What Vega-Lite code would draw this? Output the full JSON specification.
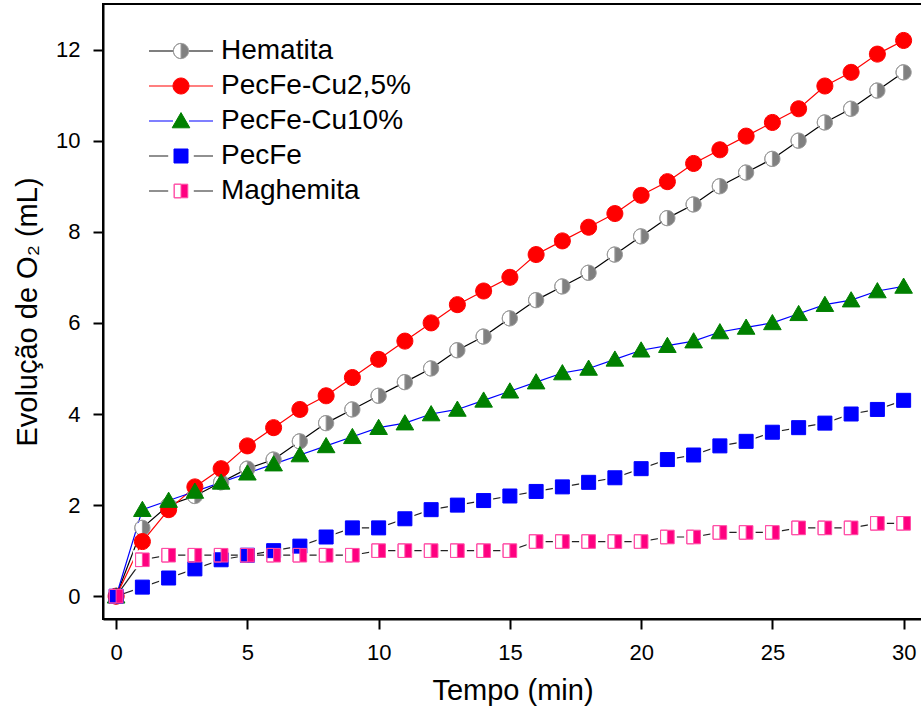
{
  "$schema": "https://vega.github.io/schema/vega-lite/v6.json",
  "width": 819,
  "height": 615,
  "autosize": {"type": "none"},
  "padding": {"left": 103, "top": 4, "right": 0, "bottom": 94},
  "config": {
    "font": "Liberation Sans",
    "view": {"stroke": "#000000", "strokeWidth": 2},
    "axis": {
      "grid": false,
      "domainColor": "#000000",
      "domainWidth": 2,
      "tickColor": "#000000",
      "tickWidth": 2,
      "tickSize": 10,
      "labelFont": "Liberation Sans",
      "labelFontSize": 22,
      "labelColor": "#000000",
      "labelPadding": 13,
      "titleFont": "Liberation Sans",
      "titleFontSize": 29,
      "titleFontWeight": "normal",
      "titleColor": "#000000",
      "titlePadding": 13
    },
    "legend": {
      "orient": "none",
      "legendX": 64,
      "legendY": 33,
      "padding": 0,
      "symbolSize": 256,
      "labelFont": "Liberation Sans",
      "labelFontSize": 28,
      "labelColor": "#000000",
      "labelLimit": 400,
      "labelOffset": 26,
      "rowPadding": 7
    }
  },
  "data": {
    "values": [
      {"serie": "Hematita", "t": 0, "o2": 0}, {"serie": "Hematita", "t": 1, "o2": 1.5}, {"serie": "Hematita", "t": 2, "o2": 2.0}, {"serie": "Hematita", "t": 3, "o2": 2.2}, {"serie": "Hematita", "t": 4, "o2": 2.5}, {"serie": "Hematita", "t": 5, "o2": 2.8}, {"serie": "Hematita", "t": 6, "o2": 3.0}, {"serie": "Hematita", "t": 7, "o2": 3.4}, {"serie": "Hematita", "t": 8, "o2": 3.8}, {"serie": "Hematita", "t": 9, "o2": 4.1}, {"serie": "Hematita", "t": 10, "o2": 4.4}, {"serie": "Hematita", "t": 11, "o2": 4.7}, {"serie": "Hematita", "t": 12, "o2": 5.0}, {"serie": "Hematita", "t": 13, "o2": 5.4}, {"serie": "Hematita", "t": 14, "o2": 5.7}, {"serie": "Hematita", "t": 15, "o2": 6.1}, {"serie": "Hematita", "t": 16, "o2": 6.5}, {"serie": "Hematita", "t": 17, "o2": 6.8}, {"serie": "Hematita", "t": 18, "o2": 7.1}, {"serie": "Hematita", "t": 19, "o2": 7.5}, {"serie": "Hematita", "t": 20, "o2": 7.9}, {"serie": "Hematita", "t": 21, "o2": 8.3}, {"serie": "Hematita", "t": 22, "o2": 8.6}, {"serie": "Hematita", "t": 23, "o2": 9.0}, {"serie": "Hematita", "t": 24, "o2": 9.3}, {"serie": "Hematita", "t": 25, "o2": 9.6}, {"serie": "Hematita", "t": 26, "o2": 10.0}, {"serie": "Hematita", "t": 27, "o2": 10.4}, {"serie": "Hematita", "t": 28, "o2": 10.7}, {"serie": "Hematita", "t": 29, "o2": 11.1}, {"serie": "Hematita", "t": 30, "o2": 11.5},
      {"serie": "PecFe-Cu2,5%", "t": 0, "o2": 0}, {"serie": "PecFe-Cu2,5%", "t": 1, "o2": 1.2}, {"serie": "PecFe-Cu2,5%", "t": 2, "o2": 1.9}, {"serie": "PecFe-Cu2,5%", "t": 3, "o2": 2.4}, {"serie": "PecFe-Cu2,5%", "t": 4, "o2": 2.8}, {"serie": "PecFe-Cu2,5%", "t": 5, "o2": 3.3}, {"serie": "PecFe-Cu2,5%", "t": 6, "o2": 3.7}, {"serie": "PecFe-Cu2,5%", "t": 7, "o2": 4.1}, {"serie": "PecFe-Cu2,5%", "t": 8, "o2": 4.4}, {"serie": "PecFe-Cu2,5%", "t": 9, "o2": 4.8}, {"serie": "PecFe-Cu2,5%", "t": 10, "o2": 5.2}, {"serie": "PecFe-Cu2,5%", "t": 11, "o2": 5.6}, {"serie": "PecFe-Cu2,5%", "t": 12, "o2": 6.0}, {"serie": "PecFe-Cu2,5%", "t": 13, "o2": 6.4}, {"serie": "PecFe-Cu2,5%", "t": 14, "o2": 6.7}, {"serie": "PecFe-Cu2,5%", "t": 15, "o2": 7.0}, {"serie": "PecFe-Cu2,5%", "t": 16, "o2": 7.5}, {"serie": "PecFe-Cu2,5%", "t": 17, "o2": 7.8}, {"serie": "PecFe-Cu2,5%", "t": 18, "o2": 8.1}, {"serie": "PecFe-Cu2,5%", "t": 19, "o2": 8.4}, {"serie": "PecFe-Cu2,5%", "t": 20, "o2": 8.8}, {"serie": "PecFe-Cu2,5%", "t": 21, "o2": 9.1}, {"serie": "PecFe-Cu2,5%", "t": 22, "o2": 9.5}, {"serie": "PecFe-Cu2,5%", "t": 23, "o2": 9.8}, {"serie": "PecFe-Cu2,5%", "t": 24, "o2": 10.1}, {"serie": "PecFe-Cu2,5%", "t": 25, "o2": 10.4}, {"serie": "PecFe-Cu2,5%", "t": 26, "o2": 10.7}, {"serie": "PecFe-Cu2,5%", "t": 27, "o2": 11.2}, {"serie": "PecFe-Cu2,5%", "t": 28, "o2": 11.5}, {"serie": "PecFe-Cu2,5%", "t": 29, "o2": 11.9}, {"serie": "PecFe-Cu2,5%", "t": 30, "o2": 12.2},
      {"serie": "PecFe-Cu10%", "t": 0, "o2": 0}, {"serie": "PecFe-Cu10%", "t": 1, "o2": 1.9}, {"serie": "PecFe-Cu10%", "t": 2, "o2": 2.1}, {"serie": "PecFe-Cu10%", "t": 3, "o2": 2.3}, {"serie": "PecFe-Cu10%", "t": 4, "o2": 2.5}, {"serie": "PecFe-Cu10%", "t": 5, "o2": 2.7}, {"serie": "PecFe-Cu10%", "t": 6, "o2": 2.9}, {"serie": "PecFe-Cu10%", "t": 7, "o2": 3.1}, {"serie": "PecFe-Cu10%", "t": 8, "o2": 3.3}, {"serie": "PecFe-Cu10%", "t": 9, "o2": 3.5}, {"serie": "PecFe-Cu10%", "t": 10, "o2": 3.7}, {"serie": "PecFe-Cu10%", "t": 11, "o2": 3.8}, {"serie": "PecFe-Cu10%", "t": 12, "o2": 4.0}, {"serie": "PecFe-Cu10%", "t": 13, "o2": 4.1}, {"serie": "PecFe-Cu10%", "t": 14, "o2": 4.3}, {"serie": "PecFe-Cu10%", "t": 15, "o2": 4.5}, {"serie": "PecFe-Cu10%", "t": 16, "o2": 4.7}, {"serie": "PecFe-Cu10%", "t": 17, "o2": 4.9}, {"serie": "PecFe-Cu10%", "t": 18, "o2": 5.0}, {"serie": "PecFe-Cu10%", "t": 19, "o2": 5.2}, {"serie": "PecFe-Cu10%", "t": 20, "o2": 5.4}, {"serie": "PecFe-Cu10%", "t": 21, "o2": 5.5}, {"serie": "PecFe-Cu10%", "t": 22, "o2": 5.6}, {"serie": "PecFe-Cu10%", "t": 23, "o2": 5.8}, {"serie": "PecFe-Cu10%", "t": 24, "o2": 5.9}, {"serie": "PecFe-Cu10%", "t": 25, "o2": 6.0}, {"serie": "PecFe-Cu10%", "t": 26, "o2": 6.2}, {"serie": "PecFe-Cu10%", "t": 27, "o2": 6.4}, {"serie": "PecFe-Cu10%", "t": 28, "o2": 6.5}, {"serie": "PecFe-Cu10%", "t": 29, "o2": 6.7}, {"serie": "PecFe-Cu10%", "t": 30, "o2": 6.8},
      {"serie": "PecFe", "t": 0, "o2": 0}, {"serie": "PecFe", "t": 1, "o2": 0.2}, {"serie": "PecFe", "t": 2, "o2": 0.4}, {"serie": "PecFe", "t": 3, "o2": 0.6}, {"serie": "PecFe", "t": 4, "o2": 0.8}, {"serie": "PecFe", "t": 5, "o2": 0.9}, {"serie": "PecFe", "t": 6, "o2": 1.0}, {"serie": "PecFe", "t": 7, "o2": 1.1}, {"serie": "PecFe", "t": 8, "o2": 1.3}, {"serie": "PecFe", "t": 9, "o2": 1.5}, {"serie": "PecFe", "t": 10, "o2": 1.5}, {"serie": "PecFe", "t": 11, "o2": 1.7}, {"serie": "PecFe", "t": 12, "o2": 1.9}, {"serie": "PecFe", "t": 13, "o2": 2.0}, {"serie": "PecFe", "t": 14, "o2": 2.1}, {"serie": "PecFe", "t": 15, "o2": 2.2}, {"serie": "PecFe", "t": 16, "o2": 2.3}, {"serie": "PecFe", "t": 17, "o2": 2.4}, {"serie": "PecFe", "t": 18, "o2": 2.5}, {"serie": "PecFe", "t": 19, "o2": 2.6}, {"serie": "PecFe", "t": 20, "o2": 2.8}, {"serie": "PecFe", "t": 21, "o2": 3.0}, {"serie": "PecFe", "t": 22, "o2": 3.1}, {"serie": "PecFe", "t": 23, "o2": 3.3}, {"serie": "PecFe", "t": 24, "o2": 3.4}, {"serie": "PecFe", "t": 25, "o2": 3.6}, {"serie": "PecFe", "t": 26, "o2": 3.7}, {"serie": "PecFe", "t": 27, "o2": 3.8}, {"serie": "PecFe", "t": 28, "o2": 4.0}, {"serie": "PecFe", "t": 29, "o2": 4.1}, {"serie": "PecFe", "t": 30, "o2": 4.3},
      {"serie": "Maghemita", "t": 0, "o2": 0}, {"serie": "Maghemita", "t": 1, "o2": 0.8}, {"serie": "Maghemita", "t": 2, "o2": 0.9}, {"serie": "Maghemita", "t": 3, "o2": 0.9}, {"serie": "Maghemita", "t": 4, "o2": 0.9}, {"serie": "Maghemita", "t": 5, "o2": 0.9}, {"serie": "Maghemita", "t": 6, "o2": 0.9}, {"serie": "Maghemita", "t": 7, "o2": 0.9}, {"serie": "Maghemita", "t": 8, "o2": 0.9}, {"serie": "Maghemita", "t": 9, "o2": 0.9}, {"serie": "Maghemita", "t": 10, "o2": 1.0}, {"serie": "Maghemita", "t": 11, "o2": 1.0}, {"serie": "Maghemita", "t": 12, "o2": 1.0}, {"serie": "Maghemita", "t": 13, "o2": 1.0}, {"serie": "Maghemita", "t": 14, "o2": 1.0}, {"serie": "Maghemita", "t": 15, "o2": 1.0}, {"serie": "Maghemita", "t": 16, "o2": 1.2}, {"serie": "Maghemita", "t": 17, "o2": 1.2}, {"serie": "Maghemita", "t": 18, "o2": 1.2}, {"serie": "Maghemita", "t": 19, "o2": 1.2}, {"serie": "Maghemita", "t": 20, "o2": 1.2}, {"serie": "Maghemita", "t": 21, "o2": 1.3}, {"serie": "Maghemita", "t": 22, "o2": 1.3}, {"serie": "Maghemita", "t": 23, "o2": 1.4}, {"serie": "Maghemita", "t": 24, "o2": 1.4}, {"serie": "Maghemita", "t": 25, "o2": 1.4}, {"serie": "Maghemita", "t": 26, "o2": 1.5}, {"serie": "Maghemita", "t": 27, "o2": 1.5}, {"serie": "Maghemita", "t": 28, "o2": 1.5}, {"serie": "Maghemita", "t": 29, "o2": 1.6}, {"serie": "Maghemita", "t": 30, "o2": 1.6}
    ]
  },
  "encoding": {
    "x": {
      "field": "t", "type": "quantitative",
      "scale": {"domain": [-0.5, 30.7], "nice": false, "zero": false},
      "axis": {"values": [0, 5, 10, 15, 20, 25, 30], "title": "Tempo (min)"}
    },
    "y": {
      "field": "o2", "type": "quantitative",
      "scale": {"domain": [-0.5, 13], "nice": false, "zero": false},
      "axis": {"values": [0, 2, 4, 6, 8, 10, 12], "title": "Evolução de O₂ (mL)"}
    }
  },
  "layer": [
    {
      "mark": {"type": "line", "strokeWidth": 1.2},
      "encoding": {
        "color": {
          "field": "serie", "type": "nominal",
          "scale": {
            "domain": ["Hematita", "PecFe-Cu2,5%", "PecFe-Cu10%", "PecFe", "Maghemita"],
            "range": ["#000000", "#ff0000", "#0000ff", "#222222", "#222222"]
          },
          "legend": {
            "title": null,
            "symbolStrokeWidth": 1.2,
            "labelOpacity": 0,
            "encode": {
              "symbols": {
                "update": {
                  "shape": {"signal": "datum.value === 'PecFe' || datum.value === 'Maghemita' ? 'M-4 0H-1.6M1.6 0H4' : 'M-4 0H-1M1 0H4'"}
                }
              }
            }
          }
        }
      }
    },
    {
      "transform": [{"filter": "datum.serie === 'Hematita'"}],
      "mark": {"type": "point", "shape": "circle", "filled": true, "fill": "#ffffff", "strokeWidth": 0, "opacity": 1, "size": 180}
    },
    {
      "transform": [{"filter": "(datum.serie === 'PecFe' || datum.serie === 'Maghemita') && datum.t > 0"}],
      "mark": {"type": "point", "shape": "square", "filled": true, "fill": "#ffffff", "strokeWidth": 0, "opacity": 1, "size": 361}
    },
    {
      "mark": {"type": "point", "filled": true, "opacity": 1, "size": 256, "strokeWidth": 1},
      "encoding": {
        "fill": {
          "field": "serie", "type": "nominal", "sort": null,
          "scale": {"range": ["#808080", "#ff0000", "#008000", "#0000ff", "#ff0080"]},
          "legend": {"title": null, "symbolStrokeWidth": 1, "symbolOpacity": 1}
        },
        "stroke": {
          "field": "serie", "type": "nominal", "sort": null,
          "scale": {"range": ["#9a9a9a", "#ff0000", "#008000", "#0000ff", "#ff4da6"]},
          "legend": {"title": null, "symbolStrokeWidth": 1, "symbolOpacity": 1}
        },
        "shape": {
          "field": "serie", "type": "nominal", "sort": null,
          "scale": {
            "range": [
              "M0 -0.95A0.95 0.95 0 1 1 0 0.95A0.95 0.95 0 1 1 0 -0.95ZM0 -0.95A0.95 0.95 0 0 0 0 0.95Z",
              "M0 -1A1 1 0 1 1 0 1A1 1 0 1 1 0 -1Z",
              "M0 -1.05L1.1 0.85L-1.1 0.85Z",
              "M-0.875 -0.875H0.875V0.875H-0.875Z",
              "M-0.85 -0.85H0.85V0.85H-0.85ZM-0.85 -0.85V0.85H0V-0.85Z"
            ]
          },
          "legend": {"title": null, "symbolStrokeWidth": 1, "symbolOpacity": 1}
        }
      }
    }
  ]
}
